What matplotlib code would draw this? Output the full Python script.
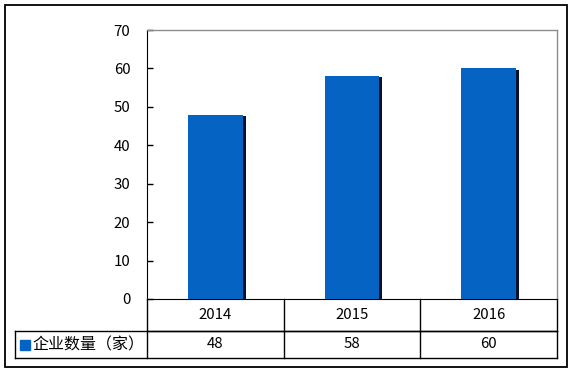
import matplotlib
matplotlib.use('Agg')
import matplotlib.pyplot as plt
import matplotlib.patheffects as pe
from matplotlib.patches import Rectangle

plt.rcParams['font.family'] = ['Noto Sans CJK SC', 'DejaVu Sans']

# données
years = ['2014', '2015', '2016']
counts = [48, 58, 60]
series_name = '企业数量（家）'
yticks = [0, 10, 20, 30, 40, 50, 60, 70]

W, H = 573, 373
fig = plt.figure(figsize=(W / 100, H / 100), dpi=100)
fs = 10.8

# cadre extérieur
fig.patches.append(Rectangle((5 / W, 6 / H), 562 / W, 362 / H, transform=fig.transFigure,
                             fill=False, edgecolor='black', linewidth=1.3))

# zone de tracé
l, r, t, b = 147, 557, 30, 299
ax = fig.add_axes([l / W, (H - b) / H, (r - l) / W, (b - t) / H])

bar_color = '#0563C4'
x = range(len(years))
bars = ax.bar(x, counts, width=0.4, color=bar_color, zorder=3)
for p in bars:
    p.set_path_effects([pe.SimplePatchShadow(offset=(2.2, -0.8), shadow_rgbFace='#08122e', alpha=1.0),
                        pe.Normal()])

ax.set_xlim(-0.5, len(years) - 0.5)
ax.set_ylim(0, 70)
ax.set_yticks(yticks)
ax.set_xticks([])
ax.tick_params(axis='y', direction='in', length=4, width=1, pad=12, labelsize=fs, colors='black')
for s in ['top', 'right']:
    ax.spines[s].set_color('#8c8c8c')
    ax.spines[s].set_linewidth(1)
ax.spines['left'].set_color('black')
ax.spines['bottom'].set_color('black')

# tableau de données sous l'axe
row1 = 32 / (b - t)
row2 = 59 / (b - t)
x_left = (15 - l) / (r - l)
line_kw = dict(color='black', linewidth=1, clip_on=False, transform=ax.transAxes)
ax.plot([0, 1], [-row1, -row1], **line_kw)
ax.plot([x_left, 1], [-row2, -row2], **line_kw)
ax.plot([x_left, 1], [-row1, -row1], **line_kw)
ax.plot([x_left, x_left], [-row1, -row2], **line_kw)
for i in range(len(years) + 1):
    xf = i / len(years)
    ax.plot([xf, xf], [0, -row2], **line_kw)

for i, (yr, c) in enumerate(zip(years, counts)):
    xc = (i + 0.5) / len(years)
    ax.text(xc, -row1 / 2, yr, transform=ax.transAxes, ha='center', va='center', fontsize=fs)
    ax.text(xc, -(row1 + row2) / 2, str(c), transform=ax.transAxes, ha='center', va='center', fontsize=fs)

# légende dans la ligne
sq = 10 / (r - l)
sqh = 10 / (b - t)
ax.add_patch(Rectangle((x_left + 5 / (r - l), -(row1 + row2) / 2 - sqh / 2), sq, sqh,
                       transform=ax.transAxes, color=bar_color, clip_on=False))
ax.text(x_left + 17 / (r - l), -(row1 + row2) / 2, series_name, transform=ax.transAxes,
        ha='left', va='center', fontsize=11.5)

fig.savefig('out.png', dpi=100)
